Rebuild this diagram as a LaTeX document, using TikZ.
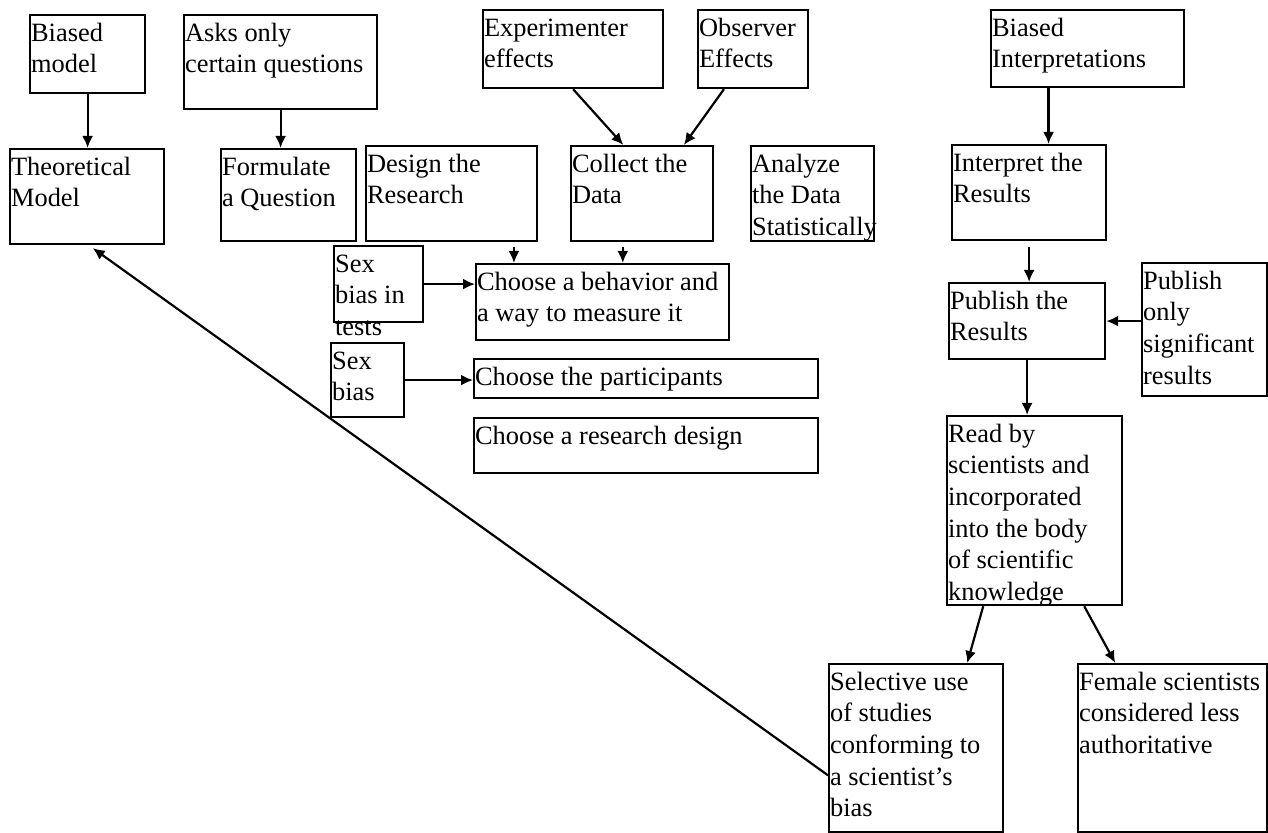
\documentclass[tikz,border=0pt]{standalone}
\usepackage{fontspec}
\setmainfont{Liberation Serif}
\usetikzlibrary{arrows.meta,positioning,calc}

% text block of a box: width and height given in pixels
\newcommand{\cardtext}[3]{\parbox[t][\dimexpr #2pt/2-4pt\relax][t]{\dimexpr #1pt/2-1pt\relax}{\raggedright\strut #3}}

\tikzset{
  stage/.style={draw, line width=1.1pt, rectangle, anchor=north west,
    inner xsep=0.5pt, inner ysep=2pt, font=\fontsize{13.2pt}{15.8pt}\selectfont},
  arr/.style={-{Latex[length=6pt,width=5.5pt]}, line width=1.1pt}
}

\begin{document}
\begin{tikzpicture}[x=0.5pt,y=-0.5pt]
\useasboundingbox (0,0) rectangle (1268,833);

% top row: sources of bias
\node[stage] (bmodel) at (29,14) {\cardtext{115}{78}{Biased\\model}};
\node[stage] (asks) at (183,14) {\cardtext{193}{94}{Asks only\\certain questions}};
\node[stage] (expe) at (482,9) {\cardtext{180}{78}{Experimenter\\effects}};
\node[stage] (obs) at (697,9) {\cardtext{110}{78}{Observer\\Effects}};
\node[stage] (binterp) at (990,9) {\cardtext{193}{77}{Biased\\Interpretations}};

% research steps
\node[stage] (theo) at (9,148) {\cardtext{154}{95}{Theoretical\\Model}};
\node[stage] (form) at (220,148) {\cardtext{135}{92}{Formulate\\a Question}};
\node[stage] (design) at (365,145) {\cardtext{171}{95}{Design the\\Research}};
\node[stage] (collect) at (570,145) {\cardtext{142}{95}{Collect the\\Data}};
\node[stage] (analyze) at (750,145) {\cardtext{123}{95}{Analyze\\the Data\\Statistically}};
\node[stage] (interp) at (951,144) {\cardtext{154}{95}{Interpret the\\Results}};

% design sub-steps
\node[stage] (sbtests) at (333,245) {\cardtext{89}{76}{Sex\\bias in\\tests}};
\node[stage] (behav) at (475,263) {\cardtext{253}{76}{Choose a behavior and\\a way to measure it}};
\node[stage] (sbias) at (330,342) {\cardtext{73}{74}{Sex\\bias}};
\node[stage] (partic) at (473,358) {\cardtext{344}{39}{Choose the participants}};
\node[stage] (rdesign) at (473,417) {\cardtext{344}{55}{Choose a research design}};

% publishing and after
\node[stage] (publish) at (948,282) {\cardtext{156}{76}{Publish the\\Results}};
\node[stage] (ponly) at (1141,262) {\cardtext{125}{133}{Publish\\only\\significant\\results}};
\node[stage] (read) at (946,415) {\cardtext{175}{189}{Read by\\scientists and\\incorporated\\into the body\\of scientific\\knowledge}};
\node[stage] (select) at (828,663) {\cardtext{174}{168}{Selective use\\of studies\\conforming to\\a scientist’s\\bias}};
\node[stage] (female) at (1077,663) {\cardtext{189}{168}{Female scientists\\considered less\\authoritative}};

% arrows
\draw[arr] (bmodel.south) -- (bmodel.south |- theo.north);
\draw[arr] (asks.south) -- (asks.south |- form.north);
\draw[arr] (expe.south) -- ($(collect.north west)!0.37!(collect.north east)$);
\draw[arr] ($(obs.south west)!0.24!(obs.south east)$) -- ($(collect.north west)!0.79!(collect.north east)$);
\draw[arr] ($(binterp.south west)!0.3!(binterp.south east)$) coordinate (b1) -- (b1 |- interp.north);
\draw[arr, shorten <=2.5pt] ($(design.south west)!0.86!(design.south east)$) coordinate (d1) -- (d1 |- behav.north);
\draw[arr, shorten <=2.5pt] ($(collect.south west)!0.366!(collect.south east)$) coordinate (c1) -- (c1 |- behav.north);
\draw[arr] (sbtests.east) -- (sbtests.east -| behav.west);
\draw[arr] (sbias.east) -- (sbias.east -| partic.west);
\draw[arr, shorten <=3pt] (interp.south) -- (interp.south |- publish.north);
\draw[arr] (publish.east -| ponly.west) -- (publish.east);
\draw[arr] (publish.south) -- (publish.south |- read.north);
\draw[arr] ($(read.south west)!0.21!(read.south east)$) -- ($(select.north west)!0.79!(select.north east)$);
\draw[arr] ($(read.south west)!0.78!(read.south east)$) -- ($(female.north west)!0.2!(female.north east)$);
\draw[arr, shorten >=2.5pt] ($(select.north west)!0.66!(select.south west)$) -- ($(theo.south west)!0.51!(theo.south east)$);

\end{tikzpicture}
\end{document}
